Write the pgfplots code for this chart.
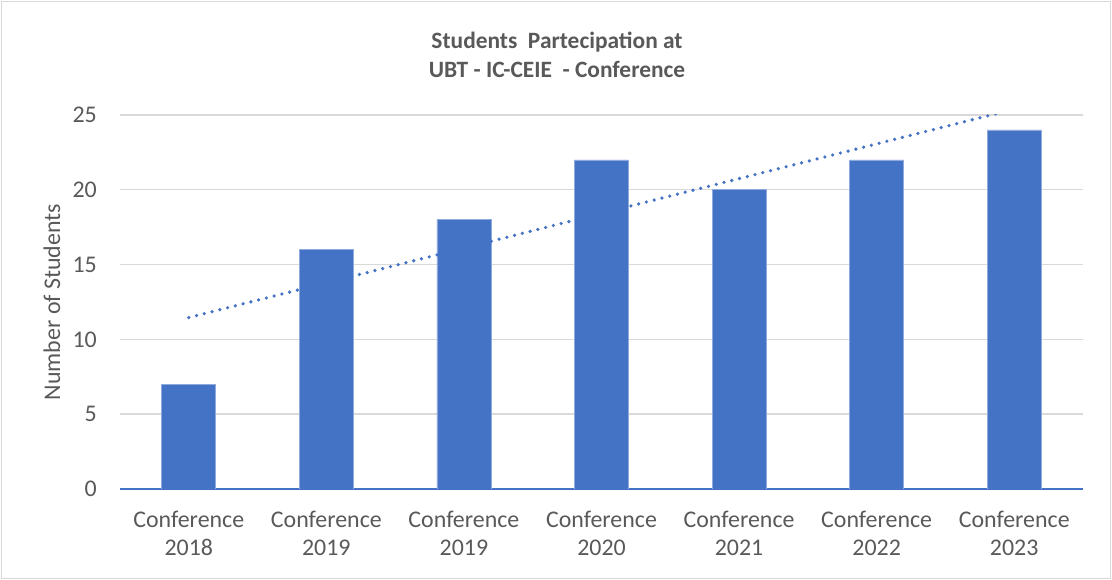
\documentclass[border=0pt]{standalone}
\usepackage{pgfplots}
\pgfplotsset{compat=1.18}
\usepackage{fontspec}
\setmainfont{Carlito}
\definecolor{barblue}{HTML}{4472C4}
\definecolor{txtgray}{HTML}{595959}
\definecolor{gridgray}{HTML}{D9D9D9}

\begin{document}
\begin{tikzpicture}[x=1bp,y=1bp]
\path[use as bounding box] (0,0) rectangle (1112,580);
\draw[gridgray, line width=1.2bp] (1.5,1.5) rectangle (1110.5,578.5);

\begin{axis}[
    at={(120bp,91bp)}, anchor=south west,
    width=963bp, height=374bp, scale only axis,
    xmin=-0.5, xmax=6.5, ymin=0, ymax=25,
    ytick={0,5,...,25},
    xtick={0,...,6},
    xticklabels={{Conference\\2018},{Conference\\2019},{Conference\\2019},{Conference\\2020},{Conference\\2021},{Conference\\2022},{Conference\\2023}},
    ymajorgrids,
    grid style={gridgray, line width=1.4bp},
    separate axis lines,
    axis x line*=bottom, axis y line*=left,
    x axis line style={barblue, line width=1.5bp, -},
    y axis line style={draw=none},
    major tick length=0pt,
    tick style={draw=none},
    /pgf/number format/assume math mode=true,
    tick label style={font=\fontsize{24}{28.5}\selectfont, text=txtgray, inner sep=0pt},
    yticklabel style={anchor=east, xshift=-23bp},
    xticklabel style={align=center, anchor=north, yshift=-22bp},
]
% bars
\addplot[ybar, bar width=54bp, fill=barblue, draw=barblue!60!white, line width=0.6bp]
coordinates {(0,7) (1,16) (2,18) (3,22) (4,20) (5,22) (6,24)};
% linear trendline
\addplot[barblue, line width=3.6bp, line cap=round, dash pattern=on 0pt off 8bp]
coordinates {(0,11.46) (6,25.39)};
\end{axis}

\node[rotate=90, text=txtgray, font=\fontsize{24}{28.5}\selectfont] at (52,278) {Number of Students};
\node[align=center, text=txtgray, font=\fontsize{23.5}{29}\selectfont\bfseries] at (557,525.5)
  {Students\ \ Partecipation at\\UBT - IC-CEIE\ \ - Conference};
\end{tikzpicture}
\end{document}
